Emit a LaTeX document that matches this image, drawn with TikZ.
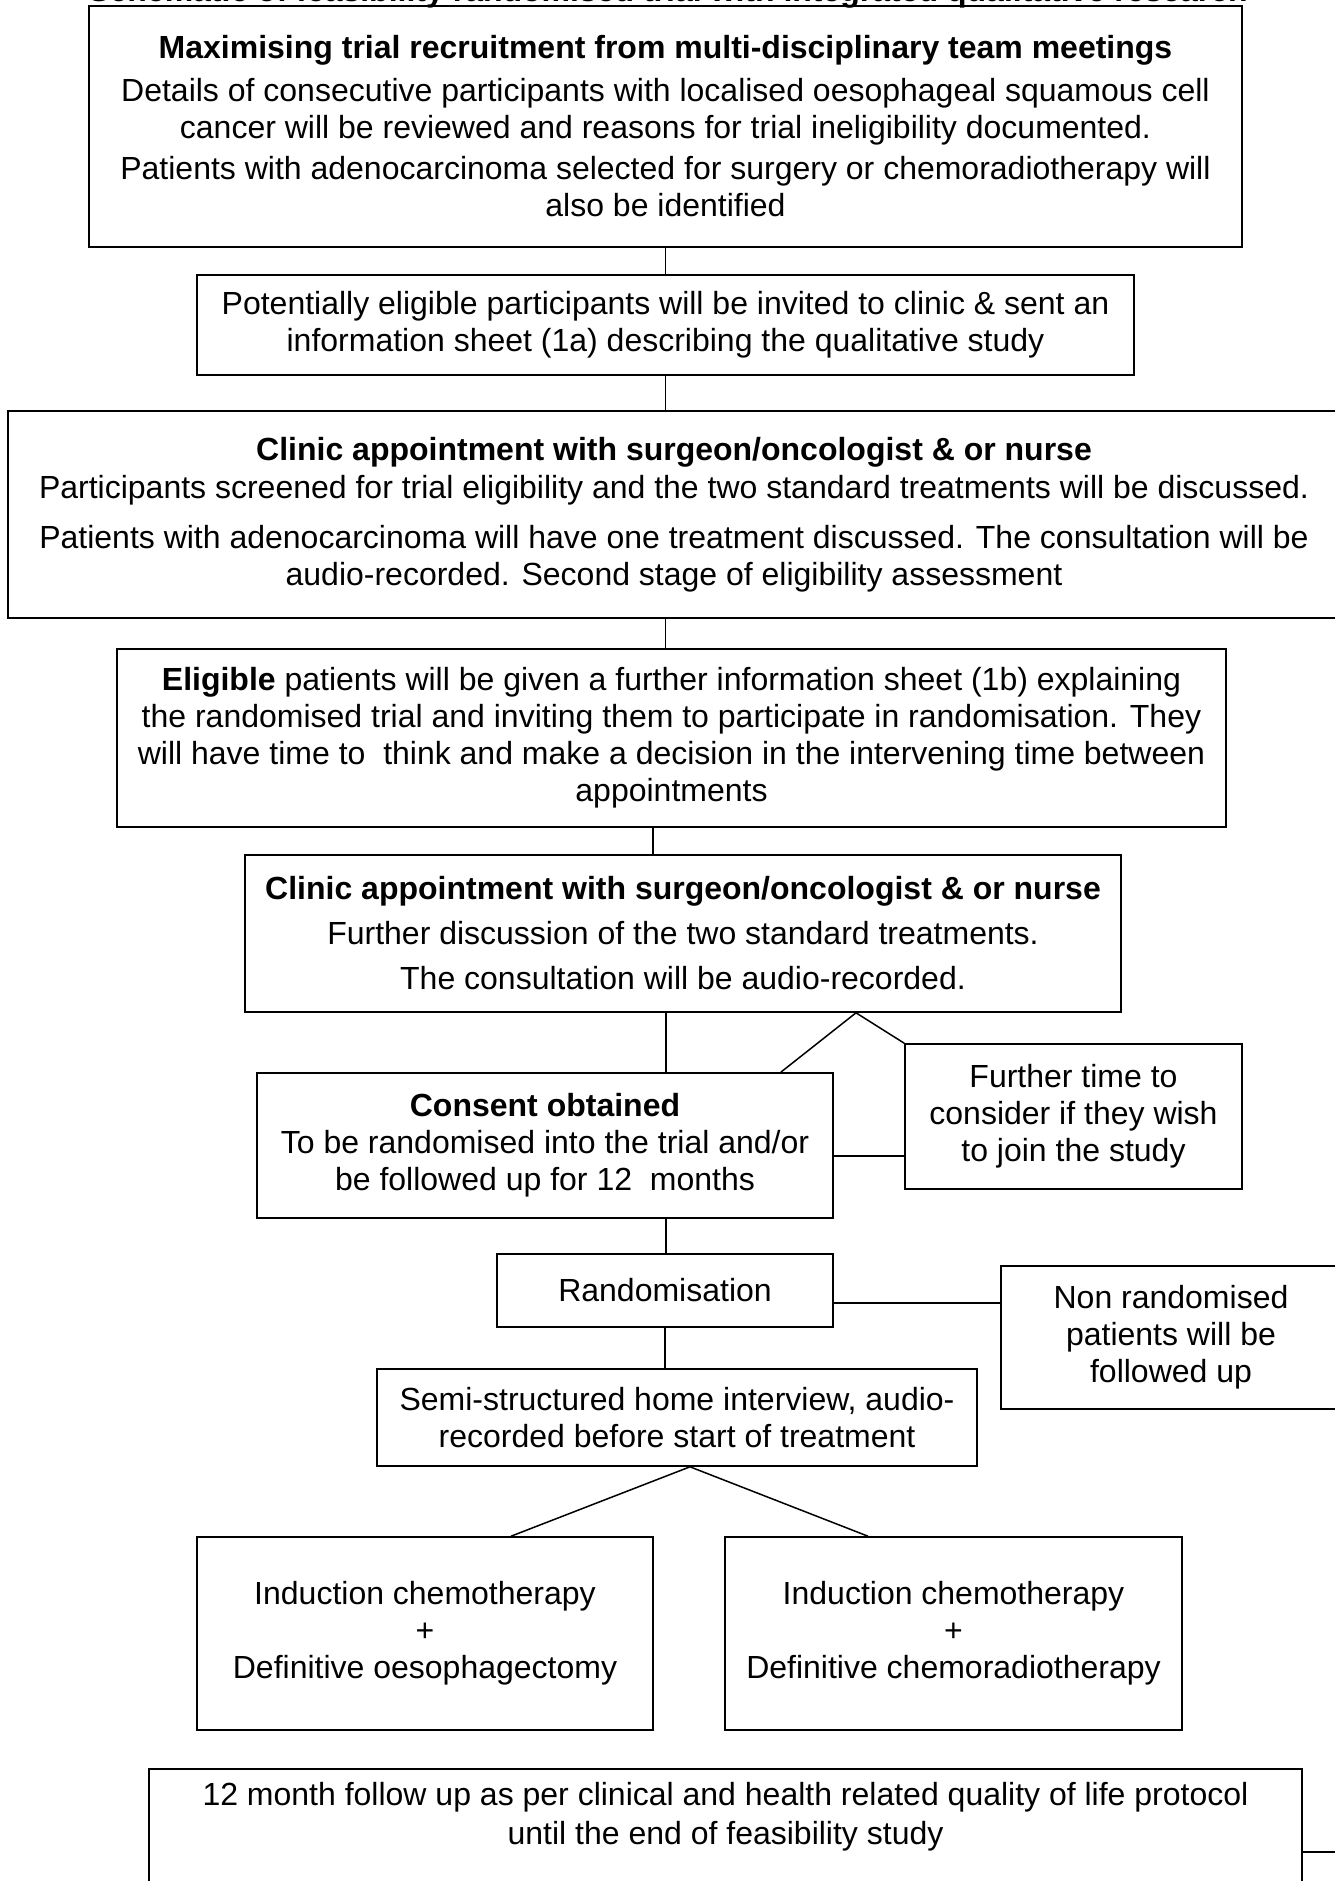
\documentclass[tikz,border=0pt]{standalone}
\usepackage{fontspec}
\setmainfont{Liberation Sans}
\newcommand\fs{\fontsize{32}{37}\selectfont}
\begin{document}
\begin{tikzpicture}[x=1pt,y=-1pt,
  box/.style={draw, line width=1.6pt, inner sep=0pt, align=center, font=\fs},
  txt/.style={inner sep=0pt, align=center, font=\fs},
  conn/.style={line width=1.5pt}]
\useasboundingbox (0,0) rectangle (1335,1881);
\fill[white] (0,0) rectangle (1335,1881);
% cut-off title
\node[txt, anchor=base, font=\fs\bfseries] (title) at (668,1.5) {Schematic of feasibility randomised trial with integrated qualitative research};
% boxes
\node[box, minimum width=1153pt, minimum height=241pt] (box1) at (665.5,126.5)
 {\textbf{Maximising trial recruitment from multi-disciplinary team meetings}\\[6pt]
  Details of consecutive participants with localised oesophageal squamous cell\\
  cancer will be reviewed and reasons for trial ineligibility documented.\\[4pt]
  Patients with adenocarcinoma selected for surgery or chemoradiotherapy will\\
  also be identified};
\node[box, minimum width=937pt, minimum height=100pt] (box2) at (665.5,325)
 {Potentially eligible participants will be invited to clinic \& sent an\\
  information sheet (1a) describing the qualitative study};
\node[box, minimum width=1332pt, minimum height=207pt] (box3) at (674,514.5)
 {\textbf{Clinic appointment with surgeon/oncologist \& or nurse}\\[1pt]
  Participants screened for trial eligibility and the two standard treatments will be discussed.\\[13pt]
  Patients with adenocarcinoma will have one treatment discussed. The consultation will be\\
  audio-recorded. Second stage of eligibility assessment};
\node[box, minimum width=1109pt, minimum height=178pt] (elig) at (671.5,738)
 {\textbf{Eligible} patients will be given a further information sheet (1b) explaining\\
  the randomised trial and inviting them to participate in randomisation. They\\
  will have time to\ \ think and make a decision in the intervening time between\\
  appointments};
\node[box, minimum width=876pt, minimum height=157pt] (clinic2) at (683,933.5)
 {\textbf{Clinic appointment with surgeon/oncologist \& or nurse}\\[8pt]
  Further discussion of the two standard treatments.\\[8pt]
  The consultation will be audio-recorded.};
\node[box, minimum width=576pt, minimum height=145pt] (consent) at (545,1145.5)
 {\textbf{Consent obtained}\\
  To be randomised into the trial and/or\\
  be followed up for 12\ \ months};
\node[box, minimum width=337pt, minimum height=145pt] (further) at (1073.5,1116.5)
 {Further time to\\consider if they wish\\to join the study};
\node[box, minimum width=336pt, minimum height=73pt] (rand) at (665,1290.5) {Randomisation};
\node[box, minimum width=340pt, minimum height=143pt] (nonrand) at (1171,1337.5)
 {Non randomised\\patients will be\\followed up};
\node[box, minimum width=600pt, minimum height=97pt] (semi) at (677,1417.5)
 {Semi-structured home interview, audio-\\recorded before start of treatment};
\node[box, minimum width=456pt, minimum height=193pt] (trtL) at (425,1633.5)
 {Induction chemotherapy\\+\\Definitive oesophagectomy};
\node[box, minimum width=457pt, minimum height=193pt] (trtR) at (953.5,1633.5)
 {Induction chemotherapy\\+\\Definitive chemoradiotherapy};
\node[box, minimum width=1153pt, minimum height=140pt, anchor=north] (final) at (725.5,1768) {};
\node[txt] (finaltxt) at (725.5,1817)
 {12 month follow up as per clinical and health related quality of life protocol\\[2pt]
  until the end of feasibility study};
\coordinate (fend) at (1345,1852);
% connectors
\draw[conn] (box1.south) -- (box2.north);
\draw[conn] (box2.south) -- (box2.south |- box3.north);
\draw[conn] (box3.south -| box2.south) -- (elig.north -| box2.south);
\draw[conn] ([xshift=-18.5pt]elig.south) -- ([xshift=-18.5pt]elig.south |- clinic2.north);
\draw[conn] ([xshift=-17pt]clinic2.south) -- ([xshift=-17pt]clinic2.south |- consent.north);
\draw[conn] ([xshift=-53pt]consent.north east) -- ([xshift=173pt]clinic2.south) -- (further.north west);
\draw[conn] ([yshift=-10.5pt]consent.east) -- ([yshift=-10.5pt]consent.east -| further.west);
\draw[conn] ([xshift=121pt]consent.south) -- ([xshift=121pt]consent.south |- rand.north);
\draw[conn] ([yshift=-12.5pt]rand.east) -- ([yshift=-12.5pt]rand.east -| nonrand.west);
\draw[conn] (rand.south) -- (rand.south |- semi.north);
\draw[conn] ([xshift=86pt]trtL.north) -- ([xshift=13pt]semi.south) -- ([xshift=-85.5pt]trtR.north);
\draw[conn] (final.east |- fend) -- (fend);
\end{tikzpicture}
\end{document}
